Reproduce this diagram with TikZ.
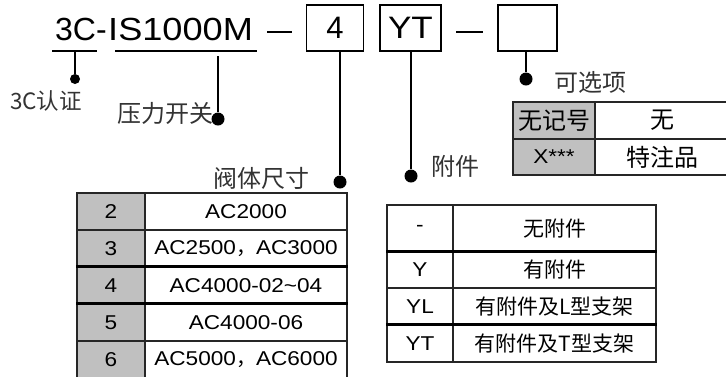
\documentclass[tikz,border=0pt]{standalone}
\usepackage{fontspec}
\setmainfont{Liberation Sans}
\newfontfamily\widefont[FakeStretch=1.13]{Liberation Sans}
\newfontfamily\cjk{Noto Sans CJK SC}
\definecolor{cellgray}{RGB}{192,192,192}
\definecolor{labelgray}{RGB}{51,51,51}
\tikzset{
    codebox/.style={draw=black, line width=1.4pt, minimum width=57pt, minimum height=46pt, inner sep=0pt},
    lead/.style={line width=1.8pt},
    leaddot/.style={circle, fill=black, inner sep=0pt, minimum size=13pt},
    smalldot/.style={circle, fill=black, inner sep=0pt, minimum size=10pt},
    tag/.style={font=\cjk\fontsize{24}{24}\selectfont, text=labelgray, inner sep=0pt},
    cell/.style={draw=black!85, line width=1.1pt, inner sep=0pt, minimum height=37pt, font=\widefont\fontsize{20}{20}\selectfont},
    keycell/.style={cell, fill=cellgray},
    ctext/.style={font=\cjk\fontsize{21}{21}\selectfont},
    bigtext/.style={font=\cjk\fontsize{24}{24}\selectfont},
    rowline/.style={line width=2.2pt}}

\begin{document}
\begin{tikzpicture}[x=1pt, y=-1pt]
    \clip (0,0) rectangle (726,376);

    \node[anchor=base west, inner sep=0pt, font=\fontsize{32}{32}\selectfont] (cc) at (55,40) {3C-};
    \node[anchor=base west, inner sep=0pt, font=\widefont\fontsize{32}{32}\selectfont] (model) at (108,40) {IS1000M};
    \draw[lead] (52,51) -- (97,51);
    \draw[lead] (115,51) -- (257,51);
    \coordinate (ccmid) at (75,51);
    \coordinate (modelmid) at (218,56);

    \draw[line width=1.1pt] (267,32) -- (292,32);
    \node[codebox, font=\fontsize{31}{31}\selectfont] (size) at (335,28) {4};
    \node[codebox, minimum width=61pt, font=\widefont\fontsize{31}{31}\selectfont] (acc) at (410.5,28) {YT};
    \draw[line width=1.1pt] (456,32) -- (483,32);
    \node[codebox, minimum width=59pt] (opt) at (527.5,28) {};

    \node[tag, font=\cjk\fontsize{22.5}{22.5}\selectfont] (cclabel) at (46,101) {3C认证};
    \node[tag] (modellabel) at (165,113) {压力开关};
    \node[tag] (sizelabel) at (261,178) {阀体尺寸};
    \node[tag] (acclabel) at (455,166) {附件};
    \node[tag] (optlabel) at (590,82) {可选项};

    \node[smalldot] (ccdot) at (75,79) {};
    \node[leaddot] (modeldot) at (218,119) {};
    \node[leaddot] (sizedot) at (340,182) {};
    \node[leaddot] (accdot) at (411,176) {};
    \node[leaddot] (optdot) at (526,79) {};

    \draw[lead] (ccmid) -- (ccdot);
    \draw[lead] (modelmid) -- (modeldot);
    \draw[lead] (sizedot |- size.south) -- (sizedot);
    \draw[lead] (accdot |- acc.south) -- (accdot);
    \draw[lead] (optdot |- opt.south) -- (optdot);

    \node[keycell, minimum width=82pt, bigtext] (o1) at (554,120.5) {无记号};
    \node[cell, minimum width=135pt, bigtext] (p1) at (662.5,120.5) {无};
    \node[keycell, minimum width=82pt, minimum height=36pt] (o2) at (554,157) {X***};
    \node[cell, minimum width=135pt, minimum height=36pt, bigtext] (p2) at (662.5,157) {特注品};

    \node[keycell, minimum width=68pt] (s2) at (111,211.5) {2};
    \node[cell, minimum width=202pt] (d2) at (246,211.5) {AC2000};
    \node[keycell, minimum width=68pt] (s3) at (111,248.5) {3};
    \node[cell, minimum width=202pt] (d3) at (246,248.5) {AC2500{\cjk ，}AC3000};
    \node[keycell, minimum width=68pt] (s4) at (111,285.5) {4};
    \node[cell, minimum width=202pt] (d4) at (246,285.5) {AC4000-02\char`~04};
    \node[keycell, minimum width=68pt] (s5) at (111,322.5) {5};
    \node[cell, minimum width=202pt] (d5) at (246,322.5) {AC4000-06};
    \node[keycell, minimum width=68pt] (s6) at (111,359.5) {6};
    \node[cell, minimum width=202pt] (d6) at (246,359.5) {AC5000{\cjk ，}AC6000};
    \draw[rowline] (s4.north west) -- (d4.north east);
    \draw[rowline] (s5.north west) -- (d5.north east);

    \node[cell, minimum width=66pt, minimum height=47pt] (n0) at (420,228.5) {-};
    \node[cell, minimum width=203pt, minimum height=47pt, ctext] (m0) at (554.5,228.5) {无附件};
    \node[cell, minimum width=66pt, minimum height=36pt] (n1) at (420,270) {Y};
    \node[cell, minimum width=203pt, minimum height=36pt, ctext] (m1) at (554.5,270) {有附件};
    \node[cell, minimum width=66pt] (n2) at (420,306.5) {YL};
    \node[cell, minimum width=203pt, ctext] (m2) at (554.5,306.5) {有附件及L型支架};
    \node[cell, minimum width=66pt] (n3) at (420,343.5) {YT};
    \node[cell, minimum width=203pt, ctext] (m3) at (554.5,343.5) {有附件及T型支架};
    \draw[rowline] (n1.north west) -- (m1.north east);
    \draw[rowline] (n3.north west) -- (m3.north east);

\end{tikzpicture}
\end{document}
